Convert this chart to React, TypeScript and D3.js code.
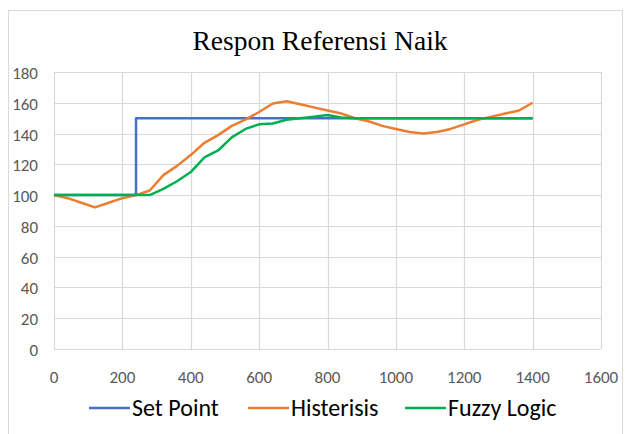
import { useEffect, useRef } from 'react'
import * as d3 from 'd3'

const setPointX = [0, 240, 240, 1400]
const setPointY = [100, 100, 150, 150]

const timeX = [
  0, 40, 80, 120, 160, 200, 240, 280, 320, 360, 400, 440, 480, 520, 560, 600, 640, 680,
  720, 760, 800, 840, 880, 920, 960, 1000, 1040, 1080, 1120, 1160, 1200, 1240, 1280, 1320,
  1360, 1400,
]

const histerisis = [
  100, 98, 95, 92, 95, 98, 100, 103, 113, 119, 126, 134, 139, 145, 149, 154, 159.5, 161,
  159, 157, 155, 153, 150, 148, 145, 143, 141, 140, 141, 143, 146, 149, 151, 153, 155, 160,
]

const fuzzyLogic = [
  100, 100, 100, 100, 100, 100, 100, 100, 104, 109, 115, 124.5, 129, 137.5, 143, 146, 146.5,
  149, 150, 151, 152, 150.5, 150, 150, 150, 150, 150, 150, 150, 150, 150, 150, 150, 150, 150,
  150,
]

const xTicks = [0, 200, 400, 600, 800, 1000, 1200, 1400, 1600]
const yTicks = [0, 20, 40, 60, 80, 100, 120, 140, 160, 180]

const seriesNames = ['Set Point', 'Histerisis', 'Fuzzy Logic']
const seriesColors = ['#4472C4', '#ED7D31', '#00B050']

const W = 627
const H = 434

export default function App() {
  const svgRef = useRef<SVGSVGElement | null>(null)

  useEffect(() => {
    const svg = d3.select(svgRef.current)
    svg.selectAll('*').remove()

    const x = d3.scaleLinear().domain([0, 1600]).range([54, 601])
    const y = d3.scaleLinear().domain([0, 180]).range([349, 72])
    const font = 'Carlito, "Liberation Sans Narrow", "Open Sans", sans-serif'

    // chart frame
    svg
      .append('rect')
      .attr('x', 8.5)
      .attr('y', 10.5)
      .attr('width', 614)
      .attr('height', 440)
      .attr('fill', '#fff')
      .attr('stroke', '#D9D9D9')

    svg
      .append('text')
      .attr('x', 320)
      .attr('y', 50)
      .attr('text-anchor', 'middle')
      .attr('font-family', '"Liberation Serif", "DejaVu Serif", serif')
      .attr('font-size', 27.5)
      .attr('fill', '#000')
      .text('Respon Referensi Naik')

    const grid = svg.append('g').attr('stroke', '#D9D9D9').attr('stroke-width', 1.2)
    grid
      .selectAll('line.h')
      .data(yTicks)
      .join('line')
      .attr('x1', x(0))
      .attr('x2', x(1600))
      .attr('y1', (d) => Math.round(y(d)) + 0.5)
      .attr('y2', (d) => Math.round(y(d)) + 0.5)
    grid
      .selectAll('line.v')
      .data(xTicks)
      .join('line')
      .attr('class', 'v')
      .attr('y1', y(0))
      .attr('y2', y(180))
      .attr('x1', (d) => Math.round(x(d)) + 0.5)
      .attr('x2', (d) => Math.round(x(d)) + 0.5)

    svg
      .append('g')
      .selectAll('text')
      .data(yTicks)
      .join('text')
      .attr('x', 38)
      .attr('y', (d) => y(d) + 1)
      .attr('dy', '0.35em')
      .attr('text-anchor', 'end')
      .attr('font-family', font)
      .attr('font-size', 17)
      .attr('fill', '#595959')
      .text((d) => d)

    svg
      .append('g')
      .selectAll('text')
      .data(xTicks)
      .join('text')
      .attr('x', (d) => x(d))
      .attr('y', 377)
      .attr('dy', '0.35em')
      .attr('text-anchor', 'middle')
      .attr('font-family', font)
      .attr('font-size', 17)
      .attr('fill', '#595959')
      .text((d) => d)

    const line = d3
      .line<[number, number]>()
      .x((d) => x(d[0]))
      .y((d) => y(d[1]))

    const series: [number, number][][] = [
      setPointX.map((v, i) => [v, setPointY[i]]),
      timeX.map((v, i) => [v, histerisis[i]]),
      timeX.map((v, i) => [v, fuzzyLogic[i]]),
    ]

    series.forEach((s, i) => {
      svg
        .append('path')
        .datum(s)
        .attr('fill', 'none')
        .attr('stroke', seriesColors[i])
        .attr('stroke-width', 2.5)
        .attr('stroke-linejoin', 'round')
        .attr('d', line)
    })

    const legendX = [89, 248, 405]
    const legend = svg.append('g')
    seriesNames.forEach((name, i) => {
      legend
        .append('line')
        .attr('x1', legendX[i])
        .attr('x2', legendX[i] + 41)
        .attr('y1', 408)
        .attr('y2', 408)
        .attr('stroke', seriesColors[i])
        .attr('stroke-width', 2.5)
      legend
        .append('text')
        .attr('x', legendX[i] + 43)
        .attr('y', 408)
        .attr('dy', '0.35em')
        .attr('font-family', font)
        .attr('font-size', 24)
        .attr('fill', '#000')
        .text(name)
    })
  }, [])

  return (
    <svg
      ref={svgRef}
      width={W}
      height={H}
      style={{ position: 'absolute', left: 0, top: 0, background: '#fff' }}
    />
  )
}
